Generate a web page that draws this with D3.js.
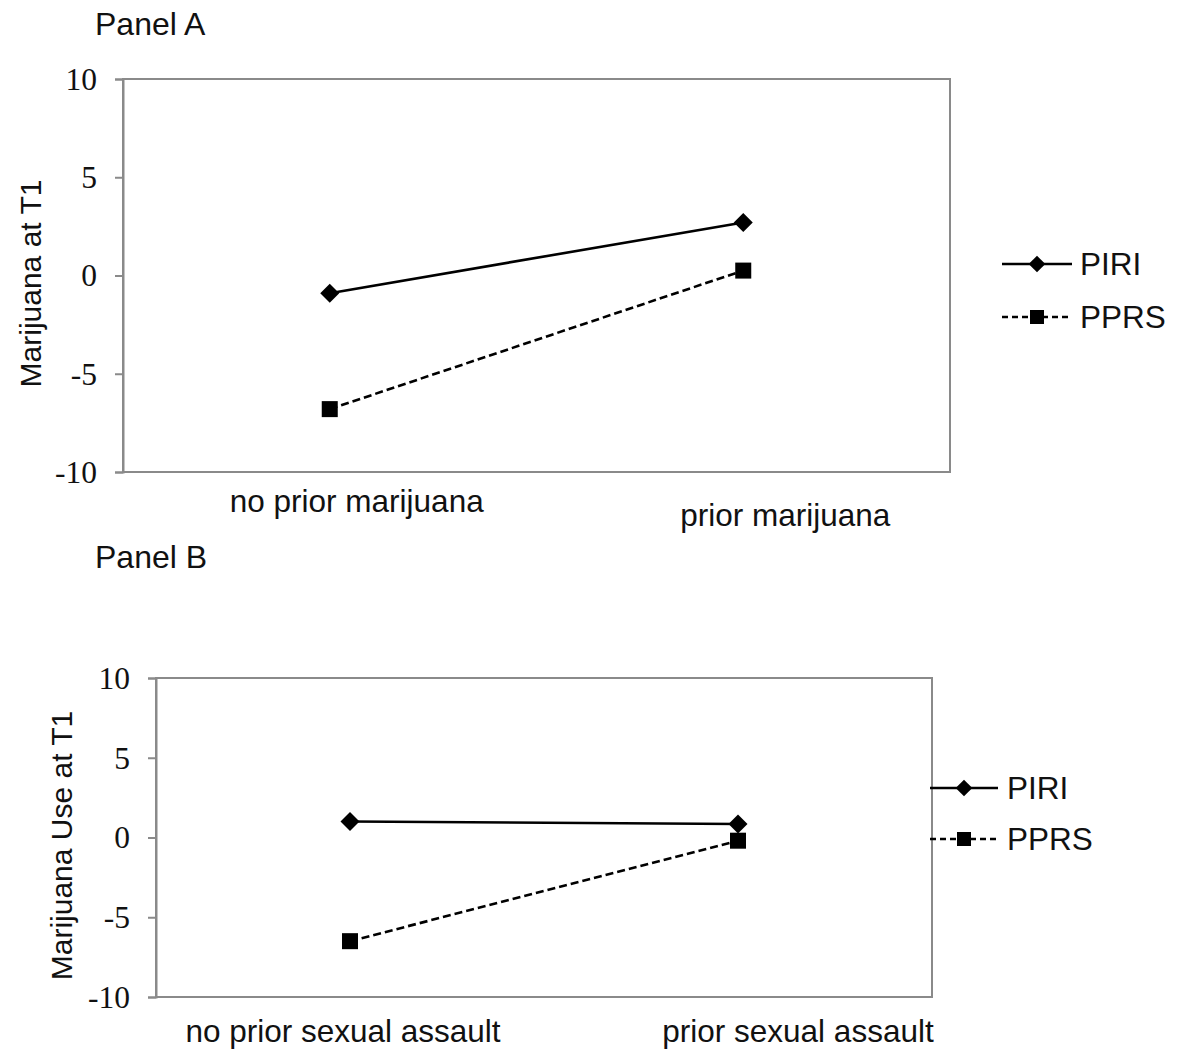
<!DOCTYPE html>
<html>
<head>
<meta charset="utf-8">
<script src="https://cdn.jsdelivr.net/npm/d3@7"></script>
<style>
  html, body { margin: 0; padding: 0; background: #fff; }
  svg { display: block; }
</style>
</head>
<body>
<svg id="chart" width="1179" height="1053"></svg>
<script>
// ---- data ----
const seriesNames = ["PIRI", "PPRS"];
const yTicks = [-10, -5, 0, 5, 10];
const categoriesA = ["no prior marijuana", "prior marijuana"];
const piriA = [-0.9, 2.7];
const pprsA = [-6.8, 0.25];
const categoriesB = ["no prior sexual assault", "prior sexual assault"];
const piriB = [1.0, 0.85];
const pprsB = [-6.5, -0.2];

// ---- layout ----
const panels = [
  {
    title: "Panel A", titleY: 35, yTitle: "Marijuana at T1", yTitleX: 41,
    box: { l: 123, t: 79, r: 950, b: 472 },
    cats: categoriesA, series: [piriA, pprsA],
    labelDx: [27, 42], labelDy: [40, 54],
    legend: { x1: 1002, x2: 1072, xm: 1037, xt: 1080, ys: [264, 317] }
  },
  {
    title: "Panel B", titleY: 568, yTitle: "Marijuana Use at T1", yTitleX: 72,
    box: { l: 156, t: 678, r: 932, b: 997 },
    cats: categoriesB, series: [piriB, pprsB],
    labelDx: [-7, 60], labelDy: [45, 45],
    legend: { x1: 930, x2: 998, xm: 964, xt: 1007, ys: [788, 839] }
  }
];

const svg = d3.select("#chart");
const sans = "'Liberation Sans', Arial, sans-serif";
const serif = "'Liberation Serif', 'Times New Roman', serif";
const gridGray = "#8a8a8a";
const dashes = [null, "8,4"];

function marker(g, type, x, y, s) {
  if (type === 0) {
    g.append("path")
      .attr("d", d3.symbol().type(d3.symbolDiamond2).size(s * s * 0.9)())
      .attr("transform", `translate(${x},${y})`)
      .attr("fill", "#000");
  } else {
    g.append("rect")
      .attr("x", x - s / 2).attr("y", y - s / 2)
      .attr("width", s).attr("height", s)
      .attr("fill", "#000");
  }
}

panels.forEach(p => {
  const b = p.box;
  const x = d3.scalePoint().domain(p.cats).range([b.l, b.r]).padding(0.5);
  const y = d3.scaleLinear().domain([-10, 10]).range([b.b, b.t]);

  // panel title
  svg.append("text").attr("x", 95).attr("y", p.titleY)
    .attr("font-family", sans).attr("font-size", 32).attr("fill", "#111")
    .text(p.title);

  // plot frame
  svg.append("rect").attr("x", b.l).attr("y", b.t)
    .attr("width", b.r - b.l).attr("height", b.b - b.t)
    .attr("fill", "none").attr("stroke", gridGray).attr("stroke-width", 2);

  // y axis
  const ax = svg.append("g").attr("transform", `translate(${b.l},0)`)
    .call(d3.axisLeft(y).tickValues(yTicks).tickSize(8).tickPadding(18).tickFormat(d3.format("d")));
  ax.select(".domain").attr("stroke", gridGray).attr("stroke-width", 2);
  ax.selectAll(".tick line").attr("stroke", gridGray).attr("stroke-width", 2);
  ax.selectAll(".tick text").attr("font-family", serif).attr("font-size", 31.5).attr("fill", "#111")
    .attr("dy", "0.33em").text(d => d.toString());

  // y title
  svg.append("text")
    .attr("transform", `translate(${p.yTitleX},${(b.t + b.b) / 2 + 8}) rotate(-90)`)
    .attr("text-anchor", "middle")
    .attr("font-family", sans).attr("font-size", 30).attr("fill", "#111")
    .text(p.yTitle);

  // category labels
  p.cats.forEach((c, i) => {
    svg.append("text")
      .attr("x", x(c) + p.labelDx[i]).attr("y", b.b + p.labelDy[i])
      .attr("text-anchor", "middle")
      .attr("font-family", sans).attr("font-size", 31.5).attr("fill", "#111")
      .text(c);
  });

  // series
  const line = d3.line().x((d, i) => x(p.cats[i])).y(d => y(d));
  p.series.forEach((vals, si) => {
    svg.append("path").datum(vals).attr("d", line)
      .attr("fill", "none").attr("stroke", "#000").attr("stroke-width", 2.6)
      .attr("stroke-dasharray", dashes[si]);
    vals.forEach((v, i) => marker(svg, si, x(p.cats[i]), y(v), 16));
  });

  // legend
  const L = p.legend;
  seriesNames.forEach((n, si) => {
    const yy = L.ys[si];
    svg.append("line").attr("x1", L.x1).attr("x2", L.x2).attr("y1", yy).attr("y2", yy)
      .attr("stroke", "#000").attr("stroke-width", 2.5).attr("stroke-dasharray", si ? "6,4" : null);
    marker(svg, si, L.xm, yy, 14);
    svg.append("text").attr("x", L.xt).attr("y", yy).attr("dy", "0.36em")
      .attr("font-family", sans).attr("font-size", 31.5).attr("fill", "#111")
      .text(n);
  });
});
</script>
</body>
</html>
